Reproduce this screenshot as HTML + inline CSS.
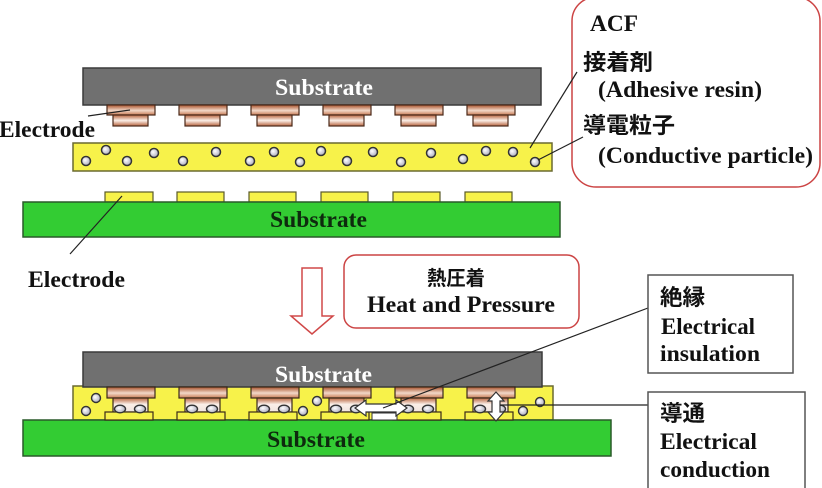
<!DOCTYPE html>
<html><head><meta charset="utf-8"><style>
html,body{margin:0;padding:0;background:#fff;}
svg{display:block;}
.t{font-family:"Liberation Serif","Noto Serif CJK SC",serif;font-weight:bold;font-size:23px;fill:#111;}
.j{font-family:"Liberation Sans","Noto Sans CJK JP",sans-serif;font-weight:bold;font-size:22px;fill:#111;}
</style></head><body>
<svg width="822" height="488" viewBox="0 0 822 488" xmlns="http://www.w3.org/2000/svg">
<defs>
<linearGradient id="fl" x1="0" y1="0" x2="0" y2="1">
<stop offset="0" stop-color="#a9522c"/><stop offset="0.55" stop-color="#f2d8c8"/><stop offset="1" stop-color="#c87a54"/>
</linearGradient>
<linearGradient id="st" x1="0" y1="0" x2="0" y2="1">
<stop offset="0" stop-color="#b8643e"/><stop offset="0.5" stop-color="#fbefe8"/><stop offset="1" stop-color="#b8643e"/>
</linearGradient>
<linearGradient id="st2" x1="0" y1="0" x2="0" y2="1">
<stop offset="0" stop-color="#b8643e"/><stop offset="0.45" stop-color="#fbefe8"/><stop offset="1" stop-color="#f0e4de"/>
</linearGradient>
<radialGradient id="pt" cx="0.4" cy="0.4" r="0.6">
<stop offset="0" stop-color="#ffffff"/><stop offset="1" stop-color="#b0b0c0"/>
</radialGradient>
</defs>

<!-- ===== TOP ASSEMBLY ===== -->
<rect x="83" y="68" width="458" height="37" fill="#707070" stroke="#3a3a3a" stroke-width="1.5"/>
<text class="t" x="275" y="95" style="fill:#fff" textLength="98" lengthAdjust="spacingAndGlyphs">Substrate</text>

<g stroke="#4a2a1a" stroke-width="1.2">
<rect x="107" y="105" width="48" height="10" fill="url(#fl)"/><rect x="113" y="115" width="35" height="11" fill="url(#st)"/>
<rect x="179" y="105" width="48" height="10" fill="url(#fl)"/><rect x="185" y="115" width="35" height="11" fill="url(#st)"/>
<rect x="251" y="105" width="48" height="10" fill="url(#fl)"/><rect x="257" y="115" width="35" height="11" fill="url(#st)"/>
<rect x="323" y="105" width="48" height="10" fill="url(#fl)"/><rect x="329" y="115" width="35" height="11" fill="url(#st)"/>
<rect x="395" y="105" width="48" height="10" fill="url(#fl)"/><rect x="401" y="115" width="35" height="11" fill="url(#st)"/>
<rect x="467" y="105" width="48" height="10" fill="url(#fl)"/><rect x="473" y="115" width="35" height="11" fill="url(#st)"/>
</g>

<text class="t" x="-1" y="137" textLength="96" lengthAdjust="spacingAndGlyphs">Electrode</text>
<line x1="88" y1="116" x2="130" y2="110" stroke="#222" stroke-width="1.2"/>

<!-- ACF film -->
<rect x="73" y="143" width="479" height="28" fill="#f7f24a" stroke="#6a6a30" stroke-width="1.5"/>
<g fill="url(#pt)" stroke="#333" stroke-width="1.5">
<circle cx="86" cy="161" r="4.5"/><circle cx="106" cy="150" r="4.5"/><circle cx="127" cy="161" r="4.5"/>
<circle cx="154" cy="153" r="4.5"/><circle cx="183" cy="161" r="4.5"/><circle cx="216" cy="152" r="4.5"/>
<circle cx="250" cy="161" r="4.5"/><circle cx="274" cy="152" r="4.5"/><circle cx="300" cy="162" r="4.5"/>
<circle cx="321" cy="151" r="4.5"/><circle cx="347" cy="161" r="4.5"/><circle cx="373" cy="152" r="4.5"/>
<circle cx="401" cy="162" r="4.5"/><circle cx="431" cy="153" r="4.5"/><circle cx="463" cy="159" r="4.5"/>
<circle cx="486" cy="151" r="4.5"/><circle cx="513" cy="152" r="4.5"/><circle cx="535" cy="162" r="4.5"/>
</g>

<!-- bottom substrate (top assembly) -->
<g fill="#f7f24a" stroke="#5a5a2a" stroke-width="1.2">
<rect x="105" y="192" width="48" height="10"/><rect x="177" y="192" width="47" height="10"/>
<rect x="249" y="192" width="47" height="10"/><rect x="321" y="192" width="47" height="10"/>
<rect x="393" y="192" width="47" height="10"/><rect x="465" y="192" width="47" height="10"/>
</g>
<rect x="23" y="202" width="537" height="35" fill="#33cc33" stroke="#2a5a2a" stroke-width="1.5"/>
<text class="t" x="270" y="227" style="fill:#0e2a0e" textLength="97" lengthAdjust="spacingAndGlyphs">Substrate</text>

<line x1="122" y1="196" x2="70" y2="254" stroke="#222" stroke-width="1.2"/>
<text class="t" x="28" y="287" textLength="97" lengthAdjust="spacingAndGlyphs">Electrode</text>

<!-- ACF callout -->
<rect x="572" y="-3" width="248" height="190" rx="24" ry="24" fill="#fff" stroke="#cc4444" stroke-width="1.5"/>
<text class="t" x="590" y="31" textLength="48" lengthAdjust="spacingAndGlyphs">ACF</text>
<text class="j" x="583" y="70" textLength="70" lengthAdjust="spacingAndGlyphs">接着剤</text>
<text class="t" x="598" y="97" textLength="164" lengthAdjust="spacingAndGlyphs">(Adhesive resin)</text>
<text class="j" x="583" y="133" textLength="92" lengthAdjust="spacingAndGlyphs">導電粒子</text>
<text class="t" x="598" y="163" textLength="215" lengthAdjust="spacingAndGlyphs">(Conductive particle)</text>
<line x1="530" y1="148" x2="577" y2="72" stroke="#222" stroke-width="1.2"/>
<line x1="538" y1="160" x2="583" y2="137" stroke="#222" stroke-width="1.2"/>

<!-- down arrow -->
<polygon points="302,268 322,268 322,316 333,316 312,334 291,316 302,316" fill="#fff" stroke="#d04848" stroke-width="1.5"/>

<!-- heat box -->
<rect x="344" y="255" width="235" height="73" rx="12" ry="12" fill="#fff" stroke="#cc4444" stroke-width="1.5"/>
<text class="j" x="427" y="285" style="font-size:20px" textLength="58" lengthAdjust="spacingAndGlyphs">熱圧着</text>
<text class="t" x="367" y="312" textLength="188" lengthAdjust="spacingAndGlyphs">Heat and Pressure</text>

<!-- ===== BOTTOM ASSEMBLY ===== -->
<rect x="73" y="386" width="480" height="34" fill="#f7f24a" stroke="#6a6a30" stroke-width="1.5"/>
<rect x="23" y="420" width="588" height="36" fill="#33cc33" stroke="#2a5a2a" stroke-width="1.5"/>
<text class="t" x="267" y="447" style="fill:#0e2a0e" textLength="98" lengthAdjust="spacingAndGlyphs">Substrate</text>

<rect x="83" y="352" width="459" height="35" fill="#707070" stroke="#3a3a3a" stroke-width="1.5"/>
<text class="t" x="275" y="382" style="fill:#fff" textLength="97" lengthAdjust="spacingAndGlyphs">Substrate</text>

<!-- compressed electrodes -->
<g stroke="#3a2a1a" stroke-width="1.2">
<g transform="translate(107,0)"><rect x="0" y="387" width="48" height="11" fill="url(#fl)"/><rect x="6" y="398" width="35" height="14" fill="url(#st2)"/><rect x="-2" y="412" width="48" height="8" fill="#f7f24a"/></g>
<g transform="translate(179,0)"><rect x="0" y="387" width="48" height="11" fill="url(#fl)"/><rect x="6" y="398" width="35" height="14" fill="url(#st2)"/><rect x="-2" y="412" width="48" height="8" fill="#f7f24a"/></g>
<g transform="translate(251,0)"><rect x="0" y="387" width="48" height="11" fill="url(#fl)"/><rect x="6" y="398" width="35" height="14" fill="url(#st2)"/><rect x="-2" y="412" width="48" height="8" fill="#f7f24a"/></g>
<g transform="translate(323,0)"><rect x="0" y="387" width="48" height="11" fill="url(#fl)"/><rect x="6" y="398" width="35" height="14" fill="url(#st2)"/><rect x="-2" y="412" width="48" height="8" fill="#f7f24a"/></g>
<g transform="translate(395,0)"><rect x="0" y="387" width="48" height="11" fill="url(#fl)"/><rect x="6" y="398" width="35" height="14" fill="url(#st2)"/><rect x="-2" y="412" width="48" height="8" fill="#f7f24a"/></g>
<g transform="translate(467,0)"><rect x="0" y="387" width="48" height="11" fill="url(#fl)"/><rect x="6" y="398" width="35" height="14" fill="url(#st2)"/><rect x="-2" y="412" width="48" height="8" fill="#f7f24a"/></g>
</g>
<g fill="url(#pt)" stroke="#333" stroke-width="1.4">
<ellipse cx="120" cy="409" rx="5.5" ry="3.8"/><ellipse cx="140" cy="409" rx="5.5" ry="3.8"/>
<ellipse cx="192" cy="409" rx="5.5" ry="3.8"/><ellipse cx="212" cy="409" rx="5.5" ry="3.8"/>
<ellipse cx="264" cy="409" rx="5.5" ry="3.8"/><ellipse cx="284" cy="409" rx="5.5" ry="3.8"/>
<ellipse cx="336" cy="409" rx="5.5" ry="3.8"/><ellipse cx="356" cy="409" rx="5.5" ry="3.8"/>
<ellipse cx="408" cy="409" rx="5.5" ry="3.8"/><ellipse cx="428" cy="409" rx="5.5" ry="3.8"/>
<ellipse cx="480" cy="409" rx="5.5" ry="3.8"/><ellipse cx="500" cy="409" rx="5.5" ry="3.8"/>
<circle cx="96" cy="398" r="4.5"/><circle cx="86" cy="411" r="4.5"/>
<circle cx="317" cy="401" r="4.5"/><circle cx="303" cy="411" r="4.5"/>
<circle cx="540" cy="402" r="4.5"/><circle cx="523" cy="411" r="4.5"/>
</g>

<!-- white gap box under arrow -->
<rect x="372" y="413" width="25" height="7" fill="#fff" stroke="#333" stroke-width="1"/>

<!-- horizontal double arrow -->
<polygon points="355,408 366,400 366,404 396,404 396,400 407,408 396,416 396,412 366,412 366,416" fill="#fff" stroke="#333" stroke-width="1.2"/>
<!-- vertical double arrow -->
<polygon points="496,392 504,401 500,401 500,412 504,412 496,421 488,412 492,412 492,401 488,401" fill="#fff" stroke="#333" stroke-width="1.2"/>

<!-- connector lines -->
<line x1="383" y1="408" x2="648" y2="308" stroke="#222" stroke-width="1.2"/>
<line x1="500" y1="405" x2="648" y2="405" stroke="#222" stroke-width="1.2"/>

<!-- insulation box -->
<rect x="648" y="275" width="145" height="98" fill="#fff" stroke="#555" stroke-width="1.5"/>
<text class="j" x="660" y="305" textLength="45" lengthAdjust="spacingAndGlyphs">絶縁</text>
<text class="t" x="661" y="334" textLength="94" lengthAdjust="spacingAndGlyphs">Electrical</text>
<text class="t" x="660" y="361" textLength="100" lengthAdjust="spacingAndGlyphs">insulation</text>

<!-- conduction box -->
<rect x="648" y="392" width="157" height="110" fill="#fff" stroke="#555" stroke-width="1.5"/>
<text class="j" x="660" y="421" textLength="45" lengthAdjust="spacingAndGlyphs">導通</text>
<text class="t" x="660" y="449" textLength="97" lengthAdjust="spacingAndGlyphs">Electrical</text>
<text class="t" x="660" y="477" textLength="110" lengthAdjust="spacingAndGlyphs">conduction</text>
</svg>
</body></html>
